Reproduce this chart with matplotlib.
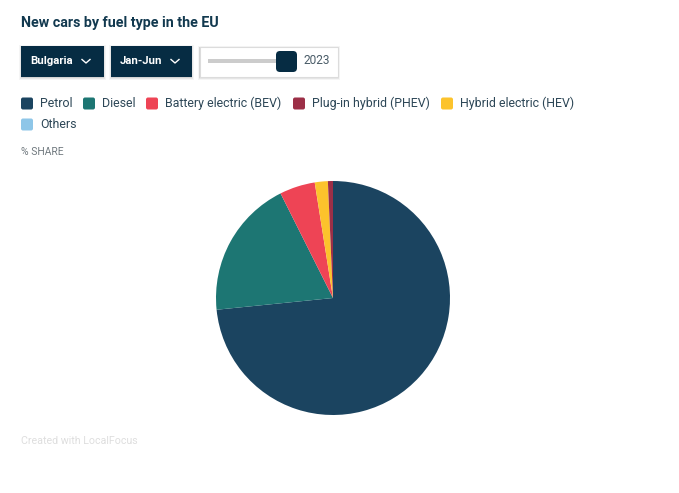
import matplotlib
matplotlib.use("Agg")
import matplotlib.pyplot as plt
from matplotlib.patches import FancyBboxPatch, Rectangle
from matplotlib.lines import Line2D

plt.rcParams['font.family'] = ['Roboto', 'DejaVu Sans']

W, H = 679, 493
title = "New cars by fuel type in the EU"
subtitle = "% SHARE"
credit = "Created with LocalFocus"
dropdowns = ["Bulgaria", "Jan-Jun"]
year = "2023"

legend_labels = ["Petrol", "Diesel", "Battery electric (BEV)", "Plug-in hybrid (PHEV)", "Hybrid electric (HEV)", "Others"]
legend_colors = ["#1b4460", "#1d7673", "#ee4455", "#9c2f47", "#fcc32c", "#8ec6e8"]

# clockwise order as drawn in the pie
pie_labels = ["Petrol", "Diesel", "Battery electric (BEV)", "Hybrid electric (HEV)", "Plug-in hybrid (PHEV)", "Others"]
pie_values = [73.4, 19.2, 4.9, 1.8, 0.7, 0.0]
pie_colors = [legend_colors[legend_labels.index(n)] for n in pie_labels]

DARK = "#062c43"
TEXT = "#2d4757"

fig = plt.figure(figsize=(W / 100, H / 100), dpi=100, facecolor="white")
ui = fig.add_axes([0, 0, 1, 1])
ui.set_xlim(0, W)
ui.set_ylim(H, 0)
ui.axis("off")

ui.text(21, 23.5, title, fontsize=10.25, fontweight="bold", color="#12394f", va="center", ha="left")

def shadow(x, y, w, h):
    for grow, a in [(2.5, .04), (1.5, .06), (0.7, .08)]:
        ui.add_patch(Rectangle((x - grow + 0.5, y - grow + 1.5), w + 2 * grow - 1, h + 2 * grow - 1, fc="black", alpha=a, lw=0))

# dropdown boxes
for (x, w, lab, tx, ax0) in [(21, 83, dropdowns[0], 30, 86), (111, 81, dropdowns[1], 120, 175)]:
    shadow(x, 46, w, 31)
    ui.add_patch(Rectangle((x, 46), w, 31, fc=DARK, lw=0))
    ui.text(tx, 61, lab, fontsize=8.2, fontweight="bold", color="white", va="center", ha="left")
    ui.add_line(Line2D([ax0 - 4, ax0, ax0 + 4], [59.5, 63, 59.5], color="white", lw=1.0))

# slider box
shadow(199.5, 46.5, 138, 30)
ui.add_patch(Rectangle((199.5, 46.5), 138, 30, fc="white", ec="#dcdcdc", lw=0.8))
ui.add_patch(Rectangle((208, 59), 72, 4, fc="#cccccc", lw=0))
ui.add_patch(FancyBboxPatch((276, 51), 21, 21, boxstyle="round,pad=0,rounding_size=4", fc=DARK, lw=0, zorder=3))
ui.text(304, 61, year, fontsize=8.6, color="#4a5c68", va="center", ha="left")

# legend
pos = [(21, 103.5), (83, 103.5), (146, 103.5), (293, 103.5), (441, 103.5), (21, 124.5)]
for (x, y), lab, c in zip(pos, legend_labels, legend_colors):
    ui.add_patch(FancyBboxPatch((x, y - 6), 12, 12, boxstyle="round,pad=0,rounding_size=2", fc=c, lw=0))
    ui.text(x + 19, y, lab, fontsize=8.95, color=TEXT, va="center", ha="left")

ui.text(21, 152, subtitle, fontsize=7.5, color="#70797f", va="center", ha="left")
ui.text(21, 440.5, credit, fontsize=7.65, color="#dedede", va="center", ha="left")

# pie
cx, cy, r = 333, 298, 117
ax = fig.add_axes([(cx - r) / W, 1 - (cy + r) / H, 2 * r / W, 2 * r / H])
ax.pie(pie_values, colors=pie_colors, startangle=90, counterclock=False, radius=1)
ax.set_xlim(-1, 1)
ax.set_ylim(-1, 1)

fig.savefig("out.png", dpi=100)
